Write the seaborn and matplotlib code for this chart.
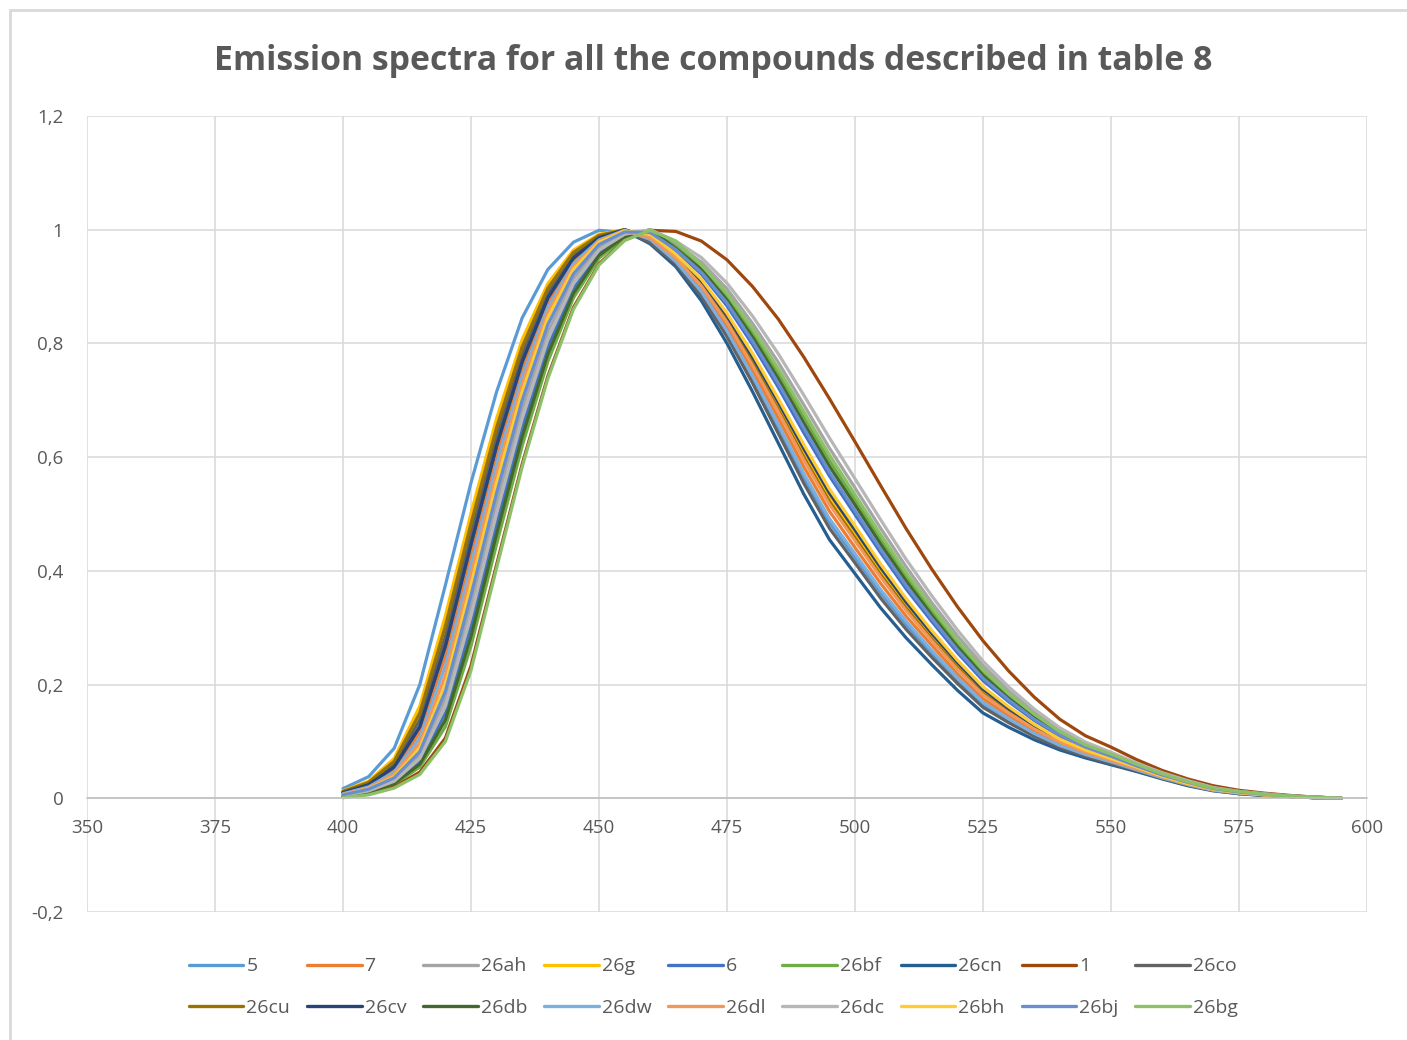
import pandas as pd
import matplotlib
matplotlib.use("Agg")
import matplotlib.pyplot as plt
import seaborn as sns
from matplotlib.ticker import MultipleLocator, FuncFormatter
from matplotlib.patches import Rectangle

# wavelength (nm)
wavelength = [400, 405, 410, 415, 420, 425, 430, 435, 440, 445,
              450, 455, 460, 465, 470, 475, 480, 485, 490, 495,
              500, 505, 510, 515, 520, 525, 530, 535, 540, 545,
              550, 555, 560, 565, 570, 575, 580, 585, 590, 595]

# normalised emission
s5 = [0.017, 0.038, 0.088, 0.200, 0.375, 0.555, 0.715, 0.845, 0.930, 0.978, 0.999, 0.995, 0.978, 0.942, 0.888, 0.818, 0.737, 0.651, 0.564, 0.485, 0.423, 0.361, 0.305, 0.255, 0.208, 0.165, 0.137, 0.112, 0.091, 0.076, 0.063, 0.050, 0.036, 0.023, 0.014, 0.009, 0.005, 0.003, 0.001, 0.0]
s7 = [0.009, 0.022, 0.050, 0.116, 0.250, 0.429, 0.604, 0.755, 0.871, 0.945, 0.984, 1.0, 0.985, 0.947, 0.896, 0.829, 0.752, 0.669, 0.583, 0.505, 0.441, 0.378, 0.320, 0.269, 0.219, 0.175, 0.145, 0.118, 0.096, 0.079, 0.065, 0.051, 0.037, 0.024, 0.015, 0.009, 0.006, 0.003, 0.001, 0.0]
s26ah = [0.005, 0.014, 0.033, 0.076, 0.175, 0.339, 0.519, 0.684, 0.820, 0.914, 0.969, 0.996, 0.998, 0.975, 0.943, 0.896, 0.835, 0.767, 0.692, 0.616, 0.546, 0.475, 0.407, 0.344, 0.286, 0.233, 0.189, 0.152, 0.120, 0.096, 0.079, 0.061, 0.044, 0.030, 0.019, 0.012, 0.008, 0.004, 0.002, 0.0]
s26g = [0.013, 0.030, 0.070, 0.162, 0.321, 0.501, 0.668, 0.807, 0.905, 0.964, 0.992, 1.0, 0.985, 0.954, 0.907, 0.844, 0.771, 0.690, 0.607, 0.529, 0.465, 0.400, 0.340, 0.285, 0.234, 0.188, 0.155, 0.126, 0.101, 0.083, 0.068, 0.053, 0.039, 0.026, 0.016, 0.010, 0.006, 0.004, 0.001, 0.0]
s6 = [0.004, 0.012, 0.028, 0.065, 0.150, 0.303, 0.483, 0.652, 0.794, 0.897, 0.960, 0.990, 0.997, 0.963, 0.922, 0.866, 0.798, 0.723, 0.643, 0.567, 0.499, 0.432, 0.368, 0.311, 0.256, 0.207, 0.170, 0.137, 0.109, 0.089, 0.073, 0.056, 0.041, 0.027, 0.017, 0.011, 0.007, 0.004, 0.001, 0.0]
s26bf = [0.003, 0.010, 0.024, 0.055, 0.126, 0.268, 0.447, 0.620, 0.768, 0.880, 0.950, 0.986, 1.0, 0.970, 0.934, 0.882, 0.819, 0.747, 0.670, 0.594, 0.525, 0.455, 0.390, 0.329, 0.272, 0.221, 0.180, 0.145, 0.115, 0.093, 0.076, 0.059, 0.042, 0.029, 0.018, 0.011, 0.007, 0.004, 0.002, 0.0]
s26cn = [0.010, 0.024, 0.055, 0.126, 0.268, 0.447, 0.620, 0.768, 0.880, 0.950, 0.986, 0.999, 0.975, 0.935, 0.875, 0.800, 0.715, 0.625, 0.535, 0.455, 0.395, 0.335, 0.282, 0.235, 0.190, 0.150, 0.125, 0.103, 0.085, 0.071, 0.059, 0.047, 0.034, 0.022, 0.013, 0.008, 0.005, 0.003, 0.001, 0.0]
s1 = [0.002, 0.008, 0.020, 0.046, 0.106, 0.233, 0.411, 0.588, 0.742, 0.863, 0.940, 0.982, 0.999, 0.997, 0.980, 0.947, 0.900, 0.843, 0.776, 0.703, 0.627, 0.550, 0.474, 0.403, 0.337, 0.277, 0.224, 0.178, 0.139, 0.110, 0.090, 0.068, 0.049, 0.034, 0.022, 0.014, 0.009, 0.005, 0.002, 0.0]
s26co = [0.011, 0.026, 0.060, 0.138, 0.285, 0.465, 0.636, 0.781, 0.888, 0.955, 0.988, 0.999, 0.977, 0.940, 0.883, 0.812, 0.730, 0.642, 0.554, 0.475, 0.414, 0.352, 0.297, 0.248, 0.202, 0.160, 0.133, 0.109, 0.089, 0.074, 0.061, 0.049, 0.035, 0.023, 0.014, 0.008, 0.005, 0.003, 0.001, 0.0]
s26cu = [0.012, 0.028, 0.065, 0.150, 0.303, 0.483, 0.652, 0.794, 0.897, 0.960, 0.990, 1.0, 0.984, 0.952, 0.903, 0.840, 0.765, 0.684, 0.600, 0.522, 0.458, 0.393, 0.334, 0.280, 0.230, 0.184, 0.152, 0.123, 0.100, 0.082, 0.067, 0.053, 0.038, 0.025, 0.015, 0.010, 0.006, 0.003, 0.001, 0.0]
s26cv = [0.010, 0.024, 0.055, 0.126, 0.268, 0.447, 0.620, 0.768, 0.880, 0.950, 0.986, 1.0, 0.985, 0.955, 0.910, 0.849, 0.776, 0.697, 0.615, 0.537, 0.472, 0.406, 0.345, 0.290, 0.239, 0.192, 0.158, 0.128, 0.103, 0.084, 0.069, 0.054, 0.039, 0.026, 0.016, 0.010, 0.006, 0.004, 0.001, 0.0]
s26db = [0.004, 0.011, 0.026, 0.060, 0.138, 0.285, 0.465, 0.636, 0.781, 0.888, 0.955, 0.988, 1.0, 0.967, 0.930, 0.876, 0.811, 0.738, 0.660, 0.584, 0.516, 0.447, 0.382, 0.322, 0.266, 0.216, 0.176, 0.142, 0.113, 0.091, 0.075, 0.058, 0.042, 0.028, 0.018, 0.011, 0.007, 0.004, 0.002, 0.0]
s26dw = [0.008, 0.020, 0.046, 0.106, 0.233, 0.411, 0.588, 0.742, 0.863, 0.940, 0.982, 0.999, 0.983, 0.944, 0.891, 0.822, 0.743, 0.658, 0.571, 0.492, 0.430, 0.367, 0.311, 0.260, 0.212, 0.169, 0.140, 0.114, 0.093, 0.077, 0.064, 0.050, 0.036, 0.024, 0.014, 0.009, 0.006, 0.003, 0.001, 0.0]
s26dl = [0.007, 0.018, 0.042, 0.097, 0.216, 0.393, 0.571, 0.728, 0.854, 0.935, 0.980, 0.998, 0.986, 0.951, 0.901, 0.837, 0.761, 0.680, 0.595, 0.517, 0.453, 0.389, 0.330, 0.277, 0.227, 0.182, 0.150, 0.122, 0.099, 0.081, 0.067, 0.052, 0.038, 0.025, 0.015, 0.010, 0.006, 0.003, 0.001, 0.0]
s26dc = [0.005, 0.013, 0.030, 0.070, 0.162, 0.321, 0.501, 0.668, 0.807, 0.905, 0.964, 0.992, 1.0, 0.980, 0.951, 0.906, 0.848, 0.782, 0.709, 0.634, 0.562, 0.490, 0.420, 0.356, 0.296, 0.241, 0.196, 0.157, 0.124, 0.099, 0.081, 0.062, 0.045, 0.031, 0.019, 0.012, 0.008, 0.004, 0.002, 0.0]
s26bh = [0.006, 0.017, 0.038, 0.088, 0.200, 0.375, 0.555, 0.715, 0.845, 0.930, 0.978, 0.998, 0.992, 0.957, 0.913, 0.853, 0.782, 0.703, 0.622, 0.544, 0.479, 0.412, 0.351, 0.295, 0.243, 0.196, 0.161, 0.130, 0.104, 0.085, 0.070, 0.055, 0.039, 0.026, 0.016, 0.010, 0.006, 0.004, 0.001, 0.0]
s26bj = [0.006, 0.016, 0.036, 0.082, 0.188, 0.357, 0.537, 0.700, 0.833, 0.922, 0.974, 0.996, 0.995, 0.965, 0.925, 0.871, 0.804, 0.730, 0.651, 0.574, 0.506, 0.438, 0.374, 0.316, 0.261, 0.211, 0.173, 0.139, 0.111, 0.090, 0.074, 0.057, 0.041, 0.028, 0.017, 0.011, 0.007, 0.004, 0.001, 0.0]
s26bg = [0.001, 0.006, 0.018, 0.042, 0.100, 0.225, 0.405, 0.583, 0.738, 0.860, 0.938, 0.981, 0.999, 0.980, 0.938, 0.888, 0.826, 0.756, 0.680, 0.604, 0.534, 0.464, 0.397, 0.336, 0.278, 0.226, 0.184, 0.148, 0.117, 0.094, 0.078, 0.060, 0.043, 0.029, 0.018, 0.012, 0.007, 0.004, 0.002, 0.0]

names = ["5", "7", "26ah", "26g", "6", "26bf", "26cn", "1", "26co",
         "26cu", "26cv", "26db", "26dw", "26dl", "26dc", "26bh", "26bj", "26bg"]
series = [s5, s7, s26ah, s26g, s6, s26bf, s26cn, s1, s26co,
          s26cu, s26cv, s26db, s26dw, s26dl, s26dc, s26bh, s26bj, s26bg]
colors = ["#5B9BD5", "#ED7D31", "#A5A5A5", "#FFC000", "#4472C4", "#70AD47",
          "#255E91", "#9E480E", "#636363", "#997300", "#264478", "#43682B",
          "#7CAFDD", "#F1975A", "#B7B7B7", "#FFCD33", "#698ED0", "#8CC168"]

df = pd.concat([pd.DataFrame({"nm": wavelength, "value": v, "compound": n})
                for n, v in zip(names, series)], ignore_index=True)

sns.set_style("white")
plt.rcParams["font.family"] = ["Open Sans", "DejaVu Sans"]

fig = plt.figure(figsize=(14.07, 10.40), dpi=100)
ax = fig.add_axes([87 / 1407, 1 - 912 / 1040, (1367 - 87) / 1407, (912 - 116) / 1040])

sns.lineplot(data=df, x="nm", y="value", hue="compound", hue_order=names,
             palette=dict(zip(names, colors)), linewidth=2.3, ax=ax,
             sort=False, estimator=None)

ax.set_xlim(350, 600)
ax.set_ylim(-0.2, 1.2)
ax.xaxis.set_major_locator(MultipleLocator(25))
ax.yaxis.set_major_locator(MultipleLocator(0.2))


def comma(v, pos):
    s = f"{v:.1f}".replace(".", ",")
    if s.endswith(",0"):
        s = s[:-2]
    if s == "-0":
        s = "0"
    return s


ax.yaxis.set_major_formatter(FuncFormatter(comma))
ax.grid(True, color="#D9D9D9", linewidth=1.1)
ax.set_axisbelow(True)
for side in ["top", "right", "left"]:
    ax.spines[side].set_visible(False)
ax.spines["bottom"].set_position(("data", 0))
ax.spines["bottom"].set_color("#BFBFBF")
ax.spines["bottom"].set_linewidth(1.1)
ax.tick_params(axis="both", length=0, labelsize=13.5, colors="#595959")
ax.tick_params(axis="y", pad=17)
ax.tick_params(axis="x", pad=15)
ax.set_xlabel("")
ax.set_ylabel("")

fig.text(0.507, 1 - 61 / 1040, "Emission spectra for all the compounds described in table 8",
         ha="center", va="center", fontsize=24.4, fontweight="bold", color="#595959")

# legend: Excel fills rows, matplotlib fills columns
handles, labels = ax.get_legend_handles_labels()
ax.legend_.remove()
order = [i for c in range(9) for i in (c, c + 9)]
leg = fig.legend([handles[i] for i in order], [labels[i] for i in order],
                 loc="center", bbox_to_anchor=(0.507, 1 - 987 / 1040), ncol=9,
                 frameon=False, fontsize=14, handlelength=2.8, handletextpad=0.15,
                 columnspacing=0.88, labelspacing=1.2)
for t in leg.get_texts():
    t.set_color("#595959")
for h in leg.legend_handles:
    h.set_linewidth(2.4)

# chart area border
fig.patches.append(Rectangle((10 / 1407, -0.05), 1.1, 1 - 10 / 1040 + 0.05,
                             transform=fig.transFigure, fill=False,
                             edgecolor="#D9D9D9", linewidth=2))

fig.savefig("out.png", dpi=100)
